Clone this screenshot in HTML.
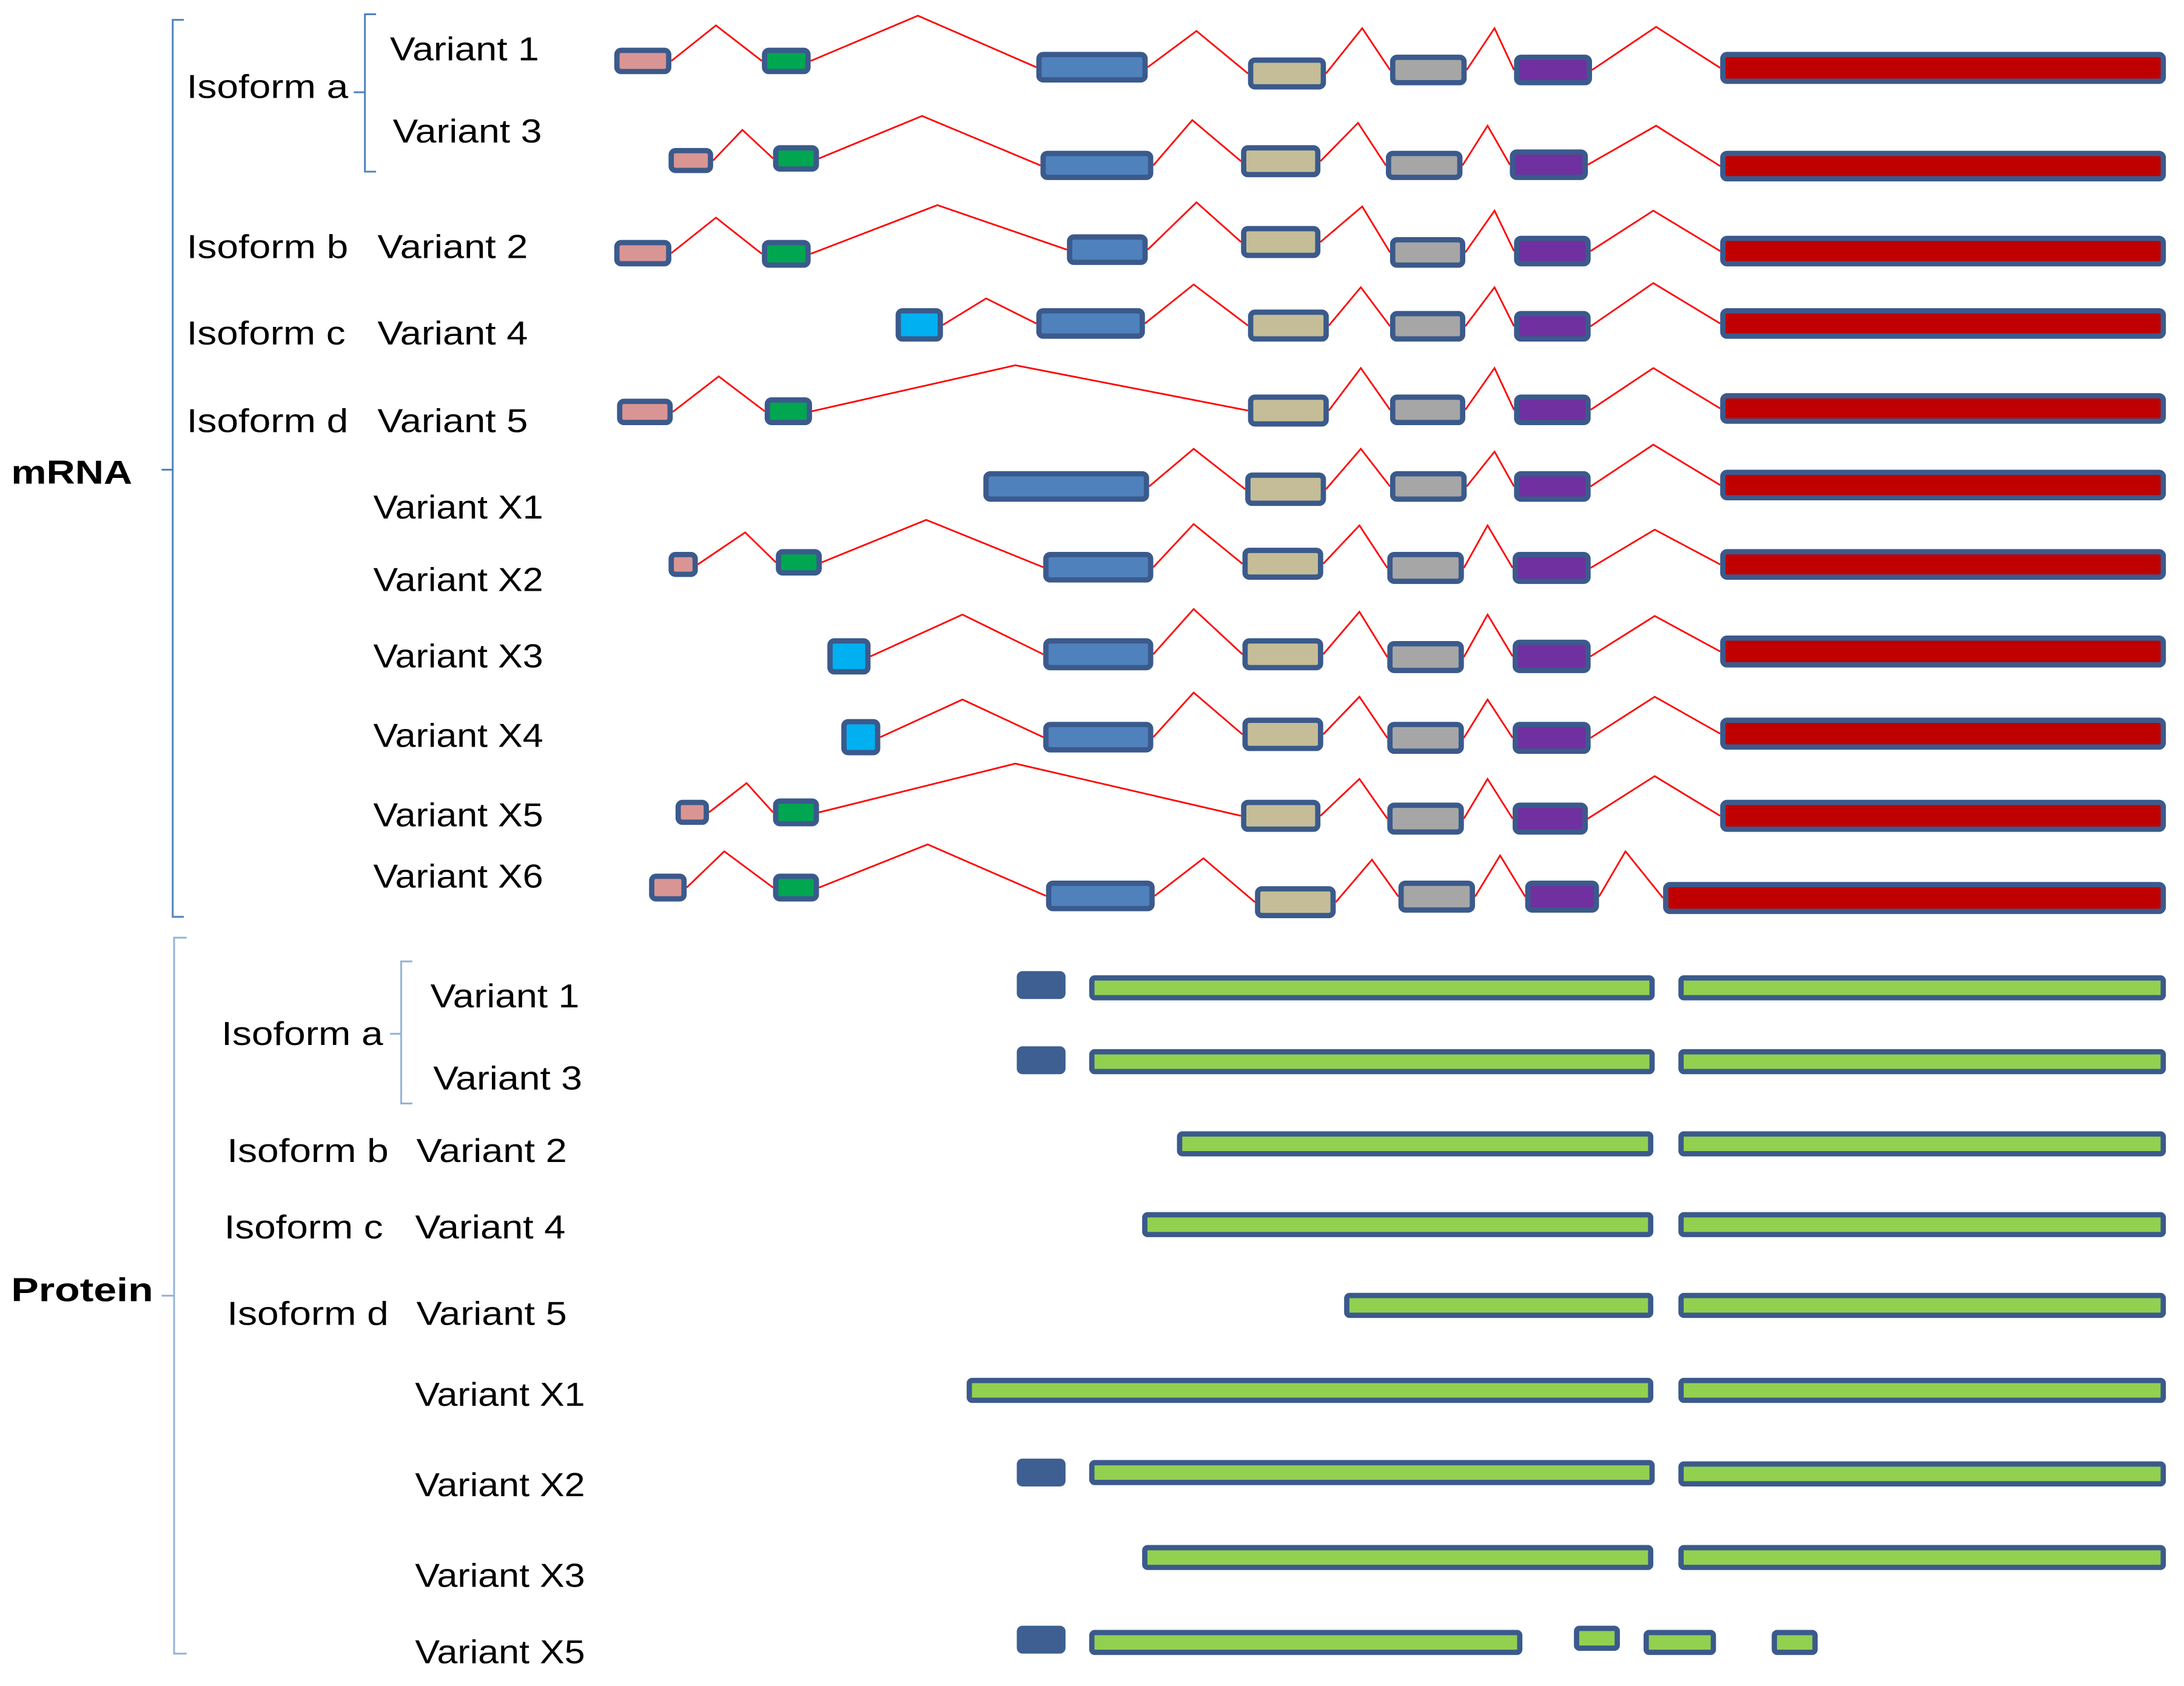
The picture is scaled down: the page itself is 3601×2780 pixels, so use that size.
<!DOCTYPE html>
<html><head><meta charset="utf-8"><style>
html,body{margin:0;padding:0;background:#fff}
svg{display:block}
text{font-family:"Liberation Sans",sans-serif;font-size:24px;fill:#000}
</style></head><body>
<svg id="s" width="3601" height="2780" viewBox="0 0 1568 1210" xmlns="http://www.w3.org/2000/svg">
<rect width="1568" height="1210" fill="#fff"/>
<g id="g"></g>
<g fill="none" stroke-width="1.3">
<path d="M132 14 H124 V658 H132 M124 337 H116" stroke="#4f81bd"/>
<path d="M270 10 H262 V123 H270 M262 66 H254" stroke="#4f81bd"/>
<path d="M134 673 H125 V1187 H134 M125 930 H116" stroke="#95b3d7"/>
<path d="M296 690 H288 V792 H296 M288 742 H280" stroke="#95b3d7"/>
</g>
<text x="8" y="347" font-weight="bold" font-size="27" textLength="87" lengthAdjust="spacingAndGlyphs">mRNA</text>
<text x="8" y="934" font-weight="bold" font-size="27" textLength="102" lengthAdjust="spacingAndGlyphs">Protein</text>
<text x="134" y="70" textLength="116" lengthAdjust="spacingAndGlyphs">Isoform a</text>
<text x="280" y="43" textLength="107" lengthAdjust="spacingAndGlyphs">Variant 1</text>
<text x="282" y="102" textLength="107" lengthAdjust="spacingAndGlyphs">Variant 3</text>
<text x="134" y="185" textLength="116" lengthAdjust="spacingAndGlyphs">Isoform b</text>
<text x="271" y="185" textLength="108" lengthAdjust="spacingAndGlyphs">Variant 2</text>
<text x="134" y="247" textLength="114" lengthAdjust="spacingAndGlyphs">Isoform c</text>
<text x="271" y="247" textLength="108" lengthAdjust="spacingAndGlyphs">Variant 4</text>
<text x="134" y="310" textLength="116" lengthAdjust="spacingAndGlyphs">Isoform d</text>
<text x="271" y="310" textLength="108" lengthAdjust="spacingAndGlyphs">Variant 5</text>
<text x="268" y="372" textLength="122" lengthAdjust="spacingAndGlyphs">Variant X1</text>
<text x="268" y="424" textLength="122" lengthAdjust="spacingAndGlyphs">Variant X2</text>
<text x="268" y="479" textLength="122" lengthAdjust="spacingAndGlyphs">Variant X3</text>
<text x="268" y="536" textLength="122" lengthAdjust="spacingAndGlyphs">Variant X4</text>
<text x="268" y="593" textLength="122" lengthAdjust="spacingAndGlyphs">Variant X5</text>
<text x="268" y="637" textLength="122" lengthAdjust="spacingAndGlyphs">Variant X6</text>
<text x="159" y="750" textLength="116" lengthAdjust="spacingAndGlyphs">Isoform a</text>
<text x="309" y="723" textLength="107" lengthAdjust="spacingAndGlyphs">Variant 1</text>
<text x="311" y="782" textLength="107" lengthAdjust="spacingAndGlyphs">Variant 3</text>
<text x="163" y="834" textLength="116" lengthAdjust="spacingAndGlyphs">Isoform b</text>
<text x="299" y="834" textLength="108" lengthAdjust="spacingAndGlyphs">Variant 2</text>
<text x="161" y="889" textLength="114" lengthAdjust="spacingAndGlyphs">Isoform c</text>
<text x="298" y="889" textLength="108" lengthAdjust="spacingAndGlyphs">Variant 4</text>
<text x="163" y="951" textLength="116" lengthAdjust="spacingAndGlyphs">Isoform d</text>
<text x="299" y="951" textLength="108" lengthAdjust="spacingAndGlyphs">Variant 5</text>
<text x="298" y="1009" textLength="122" lengthAdjust="spacingAndGlyphs">Variant X1</text>
<text x="298" y="1074" textLength="122" lengthAdjust="spacingAndGlyphs">Variant X2</text>
<text x="298" y="1139" textLength="122" lengthAdjust="spacingAndGlyphs">Variant X3</text>
<text x="298" y="1194" textLength="122" lengthAdjust="spacingAndGlyphs">Variant X5</text>
</svg>
<script>
var C={p:"#d99594",g:"#00a650",b:"#4f81bd",t:"#c4bd97",y:"#a6a6a6",u:"#7030a0",r:"#c00000",c:"#00b0f0"};
var rows=[
[[["p",441,482,34,53],["g",547,582,34,53],["b",744,824,37,59],["t",896,952,41,64],["y",998,1053,39,61],["u",1087,1143,39,61],["r",1235,1555,37,60]],[[514,18],[659,11],[859,22],[978,20],[1073,20],[1189,19]]],
[[["p",480,512,106,124],["g",555,588,104,123],["b",747,828,108,129],["t",891,948,104,127],["y",995,1050,108,129],["u",1084,1140,107,129],["r",1235,1555,108,130]],[[533,93],[662,83],[856,86],[975,88],[1068,90],[1189,90]]],
[[["p",441,482,172,191],["g",547,582,172,192],["b",766,824,168,190],["t",891,948,162,185],["y",998,1052,170,192],["u",1087,1142,169,191],["r",1235,1555,169,191]],[[514,156],[673,147],[859,145],[978,148],[1073,151],[1187,151]]],
[[["c",643,677,221,245],["b",744,822,221,243],["t",896,954,222,245],["y",998,1052,223,245],["u",1087,1142,223,245],["r",1235,1555,221,243]],[[708,214],[857,204],[977,206],[1073,206],[1187,203]]],
[[["p",443,483,286,305],["g",549,583,285,305],["t",896,954,283,306],["y",998,1052,283,305],["u",1087,1142,283,305],["r",1235,1555,282,304]],[[516,270],[729,262],[977,264],[1073,264],[1187,264]]],
[[["b",706,825,338,360],["t",894,952,339,363],["y",998,1053,338,360],["u",1087,1142,338,360],["r",1235,1555,337,359]],[[857,322],[977,322],[1073,324],[1187,319]]],
[[["p",480,501,396,414],["g",557,590,394,413],["b",749,828,396,418],["t",892,950,393,416],["y",996,1051,396,419],["u",1086,1142,396,419],["r",1235,1555,394,416]],[[535,382],[665,373],[857,376],[976,377],[1068,377],[1188,380]]],
[[["c",594,625,458,484],["b",749,828,458,481],["t",892,950,458,481],["y",996,1051,460,483],["u",1086,1142,459,483],["r",1235,1555,456,479]],[[691,441],[857,437],[976,439],[1068,441],[1188,442]]],
[[["c",604,632,516,542],["b",749,828,518,540],["t",892,950,515,539],["y",996,1051,518,541],["u",1086,1142,518,541],["r",1235,1555,515,538]],[[691,502],[857,497],[976,500],[1068,502],[1188,500]]],
[[["p",485,509,574,592],["g",555,588,573,593],["t",891,948,574,597],["y",996,1051,576,599],["u",1086,1140,576,599],["r",1235,1555,574,597]],[[536,562],[729,548],[976,559],[1068,559],[1188,557]]],
[[["p",466,493,627,647],["g",555,588,627,647],["b",751,829,632,654],["t",901,959,636,659],["y",1004,1059,632,655],["u",1095,1148,632,655],["r",1194,1555,633,656]],[[520,611],[666,606],[864,616],[985,617],[1077,614],[1167,611]]]
];
var h="";
rows.forEach(function(r){var e=r[0],pk=r[1];
for(var i=0;i<pk.length;i++){var a=e[i],b=e[i+1];
h+='<polyline fill="none" stroke="#ff0000" stroke-width="1.2" points="'+a[2]+','+(a[3]+a[4])/2+' '+pk[i][0]+','+pk[i][1]+' '+b[1]+','+(b[3]+b[4])/2+'"/>';}
e.forEach(function(x){h+='<rect x="'+(x[1]+1.9)+'" y="'+(x[3]+1.9)+'" width="'+(x[2]-x[1]-3.8)+'" height="'+(x[4]-x[3]-3.8)+'" rx="3" fill="'+C[x[0]]+'" stroke="#3b5a8c" stroke-width="3.8"/>';});});
var P=[["k",730,697,765,717],["n",782,700,1188,718],["n",1205,700,1555,718],
["k",730,751,765,771],["n",782,753,1188,771],["n",1205,753,1555,771],
["n",845,812,1187,830],["n",1205,812,1555,830],
["n",820,870,1187,888],["n",1205,870,1555,888],
["n",965,928,1187,946],["n",1205,928,1555,946],
["n",694,989,1187,1007],["n",1205,989,1555,1007],
["k",730,1047,765,1067],["n",782,1048,1188,1066],["n",1205,1049,1555,1067],
["n",820,1109,1187,1127],["n",1205,1109,1555,1127],
["k",730,1167,765,1187],["n",782,1170,1093,1188],["n",1130,1167,1163,1185],["n",1180,1170,1232,1188],["n",1272,1170,1305,1188]];
P.forEach(function(x){if(x[0]=="k")h+='<rect x="'+x[1]+'" y="'+x[2]+'" width="'+(x[3]-x[1])+'" height="'+(x[4]-x[2])+'" rx="4" fill="#3d5f91"/>';
else h+='<rect x="'+(x[1]+1.9)+'" y="'+(x[2]+1.9)+'" width="'+(x[3]-x[1]-3.8)+'" height="'+(x[4]-x[2]-3.8)+'" rx="2" fill="#92d050" stroke="#3b5a8c" stroke-width="3.8"/>';});
document.getElementById("g").innerHTML=h;
</script>
</body></html>
